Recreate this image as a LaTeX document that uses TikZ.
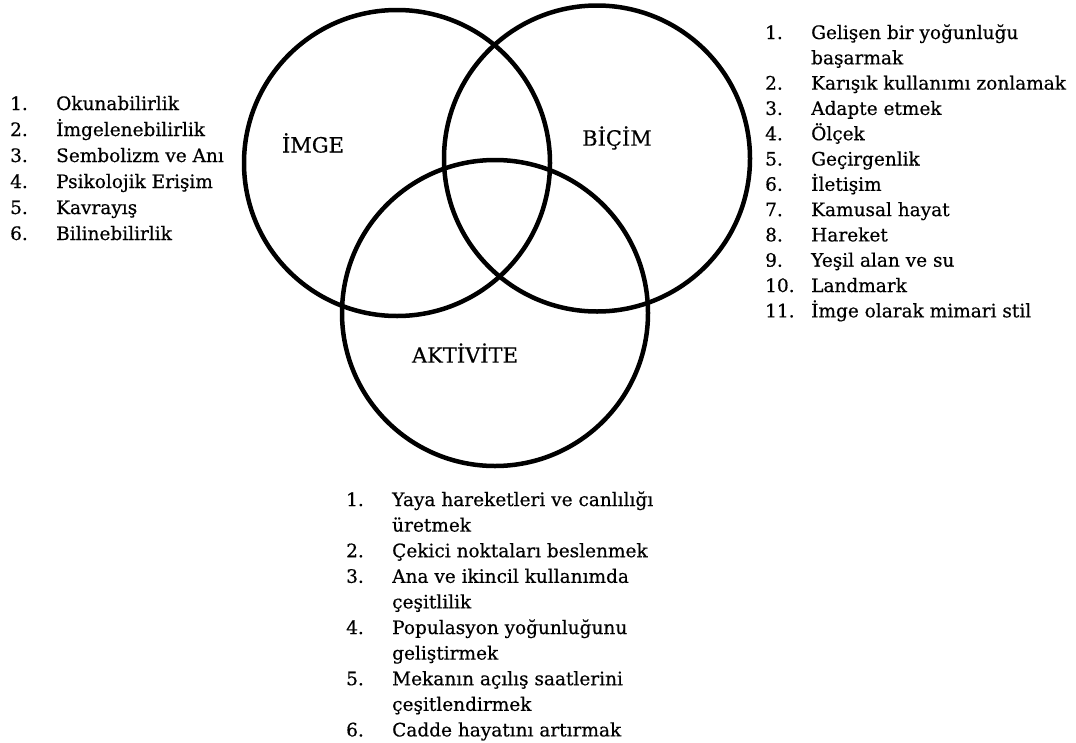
\documentclass[tikz,border=0pt]{standalone}
\usepackage{fontspec}
\setmainfont{DejaVu Serif}
\newfontfamily\diagfont{DejaVu Serif}[FakeBold=0.5]
\begin{document}
\begin{tikzpicture}[x=1pt,y=-1pt,
  ring/.style={circle, draw, line width=4.5pt, minimum size=306pt, inner sep=0pt},
  setlabel/.style={font=\diagfont\fontsize{21}{24}\selectfont, inner sep=0pt},
  itemnum/.style={anchor=base west, inner sep=0pt, font=\diagfont\fontsize{18.5}{22}\selectfont},
  itemtext/.style={anchor=base west, inner sep=0pt, font=\diagfont\fontsize{18.5}{22}\selectfont}]
\useasboundingbox (0,0) rectangle (1076,742);

% the three overlapping sets
\node[ring] (imge)  at (397,163) {};
\node[ring] (bicim) at (597,158.5) {};
\node[ring] (akt)   at (495,313) {};

\node[setlabel] (imge-label)  at (313,143) {İMGE};
\node[setlabel] (bicim-label) at (617,138) {BİÇİM};
\node[setlabel] (akt-label)   at (465,353) {AKTİVİTE};

% list for İMGE
\foreach \n/\t [count=\k] in {1./Okunabilirlik, 2./İmgelenebilirlik, 3./Sembolizm ve Anı,
    4./Psikolojik Erişim, 5./Kavrayış, 6./Bilinebilirlik} {
  \node[itemnum]  (imge-num-\k)  at (10,{110+26*(\k-1)}) {\n};
  \node[itemtext] (imge-item-\k) at (56,{110+26*(\k-1)}) {\t};
}

% list for BİÇİM (row index in the last field)
\foreach \n/\t/\r [count=\k] in {1./Gelişen bir yoğunluğu/0, 2./Karışık kullanımı zonlamak/2,
    3./Adapte etmek/3, 4./Ölçek/4, 5./Geçirgenlik/5, 6./İletişim/6, 7./Kamusal hayat/7,
    8./Hareket/8, 9./Yeşil alan ve su/9, 10./Landmark/10, 11./İmge olarak mimari stil/11} {
  \node[itemnum]  (bicim-num-\k)  at (765,{39+25.3*\r}) {\n};
  \node[itemtext] (bicim-item-\k) at (811,{39+25.3*\r}) {\t};
}
\node[itemtext] (bicim-item-1b) at (811,{39+25.3}) {başarmak};

% list for AKTİVİTE
\foreach \n/\t/\r [count=\k] in {1./Yaya hareketleri ve canlılığı/0, 2./Çekici noktaları beslenmek/2,
    3./Ana ve ikincil kullanımda/3, 4./Populasyon yoğunluğunu/5,
    5./Mekanın açılış saatlerini/7, 6./Cadde hayatını artırmak/9} {
  \node[itemnum]  (akt-num-\k)  at (346,{506+25.6*\r}) {\n};
  \node[itemtext] (akt-item-\k) at (392,{506+25.6*\r}) {\t};
}
\node[itemtext] (akt-item-1b) at (392,{506+25.6*1}) {üretmek};
\node[itemtext] (akt-item-3b) at (392,{506+25.6*4}) {çeşitlilik};
\node[itemtext] (akt-item-4b) at (392,{506+25.6*6}) {geliştirmek};
\node[itemtext] (akt-item-5b) at (392,{506+25.6*8}) {çeşitlendirmek};
\end{tikzpicture}
\end{document}
